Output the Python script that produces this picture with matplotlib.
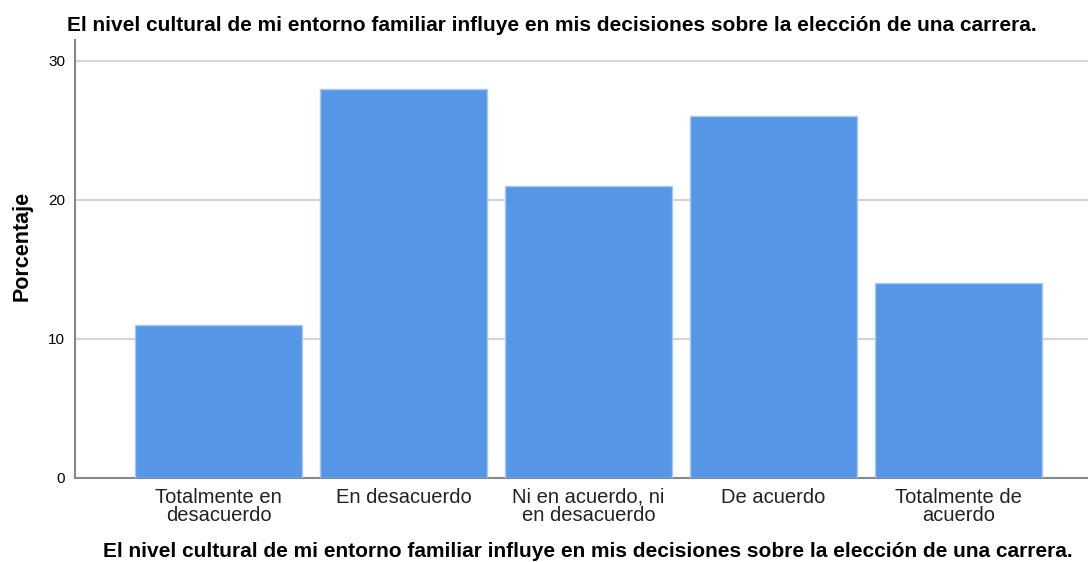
import numpy as np
import matplotlib.pyplot as plt

categorias = ['Totalmente en\ndesacuerdo', 'En desacuerdo', 'Ni en acuerdo, ni\nen desacuerdo',
              'De acuerdo', 'Totalmente de\nacuerdo']
porcentajes = [11, 28, 21, 26, 14]
titulo = 'El nivel cultural de mi entorno familiar influye en mis decisiones sobre la elección de una carrera.'

plt.rcParams['font.family'] = ['Liberation Sans', 'DejaVu Sans']

fig = plt.figure(figsize=(10.88, 5.62), dpi=100)
ax = fig.add_axes([0.0689, 0.1495, 0.9311, 0.7793])

x = np.arange(len(categorias))
ax.bar(x, porcentajes, width=0.9, color='#5596E6', edgecolor='#A9C9F0', linewidth=1, zorder=3)

ax.set_xlim(-0.776, 4.70)
ax.set_ylim(0, 31.5)
ax.set_yticks([0, 10, 20, 30])
ax.set_xticks(x)
ax.set_xticklabels(categorias, fontsize=14.5, color='#222222', linespacing=0.98)
ax.tick_params(axis='y', length=0, labelsize=11, pad=7)
ax.tick_params(axis='x', length=0, pad=7)
ax.grid(axis='y', color='#D4D4D4', linewidth=1.5, zorder=0)

for s in ['top', 'right']:
    ax.spines[s].set_visible(False)
ax.spines['left'].set_color('#888888')
ax.spines['bottom'].set_color('#888888')
ax.spines['left'].set_linewidth(1.5)
ax.spines['bottom'].set_linewidth(1.5)

ax.set_ylabel('Porcentaje', fontsize=15.5, fontweight='bold')
ax.yaxis.set_label_coords(-0.042, 0.53)
fig.text(0.507, 0.955, titulo, ha='center', va='center', fontsize=15, fontweight='bold')
fig.text(0.54, 0.018, titulo, ha='center', va='center', fontsize=15, fontweight='bold')

plt.savefig('out.png', dpi=100)
